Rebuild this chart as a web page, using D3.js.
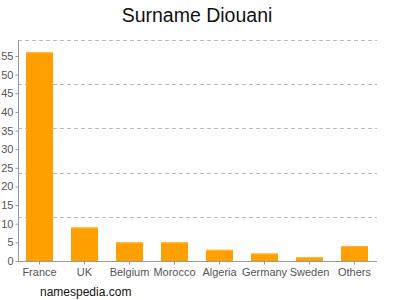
<!DOCTYPE html>
<html><head><meta charset="utf-8">
<script src="https://cdn.jsdelivr.net/npm/d3@7"></script>
<style>body{margin:0;background:#fff}svg{display:block;font-family:"Liberation Sans",Arial,sans-serif}</style>
</head><body>
<svg id="c" width="400" height="300"></svg>
<script>
const categories = ["France","UK","Belgium","Morocco","Algeria","Germany","Sweden","Others"];
const values = [56,9,5,5,3,2,1,4];
const yTicks = [0,5,10,15,20,25,30,35,40,45,50,55];
const yMax = 59.3;
const gridCount = 5;

const svg = d3.select("#c");
const m = {l:18, r:23, t:40, b:39};
const W = 400, H = 300;
const x = d3.scaleBand().domain(categories).range([m.l-1, W-m.r]).paddingInner(0.4).paddingOuter(0.2);
const y = d3.scaleLinear().domain([0,yMax]).range([H-m.b, m.t]);

// grid
const grid = d3.range(1, gridCount+1).map(i => yMax*i/gridCount);
svg.append("g").selectAll("line").data(grid).join("line")
  .attr("x1", m.l).attr("x2", W-m.r)
  .attr("y1", d=>Math.round(y(d))+0.5).attr("y2", d=>Math.round(y(d))+0.5)
  .attr("stroke","#bbb").attr("stroke-dasharray","4,3");

// bars
svg.append("g").selectAll("rect").data(values).join("rect")
  .attr("x",(d,i)=>x(categories[i])).attr("width",x.bandwidth())
  .attr("y",d=>y(d)).attr("height",d=>y(0)-y(d))
  .attr("fill","#ffa000");
svg.append("g").selectAll("line").data(values).join("line")
  .attr("x1",(d,i)=>x(categories[i])).attr("x2",(d,i)=>x(categories[i])+x.bandwidth())
  .attr("y1",d=>y(d)+0.5).attr("y2",d=>y(d)+0.5)
  .attr("stroke","#ffb733");

// y axis
const ya = svg.append("g").attr("transform",`translate(${m.l+0.5},0)`)
  .call(d3.axisLeft(y).tickValues(yTicks).tickSize(3).tickPadding(2));
ya.select(".domain").attr("stroke","#999").attr("d",`M0,${m.t}V${y(0)}`);
ya.selectAll(".tick line").attr("stroke","#999");
ya.selectAll("text").attr("fill","#555").style("font-size","11px").style("font-family","Liberation Sans, Arial, sans-serif");

// x axis
const xa = svg.append("g").attr("transform",`translate(0,${Math.round(y(0))+0.5})`)
  .call(d3.axisBottom(x).tickSize(3).tickPadding(4));
xa.select(".domain").attr("stroke","#999").attr("d",`M${m.l},0H${W-m.r}`);
xa.selectAll(".tick line").attr("stroke","#999");
xa.selectAll("text").attr("fill","#555").style("font-size","11px").style("font-family","Liberation Sans, Arial, sans-serif");

svg.append("text").attr("x",197).attr("y",22).attr("text-anchor","middle")
  .style("font-size","19.5px").attr("fill","#111").text("Surname Diouani");
svg.append("text").attr("x",40).attr("y",296)
  .style("font-size","12px").attr("fill","#111").text("namespedia.com");
</script>
</body></html>
